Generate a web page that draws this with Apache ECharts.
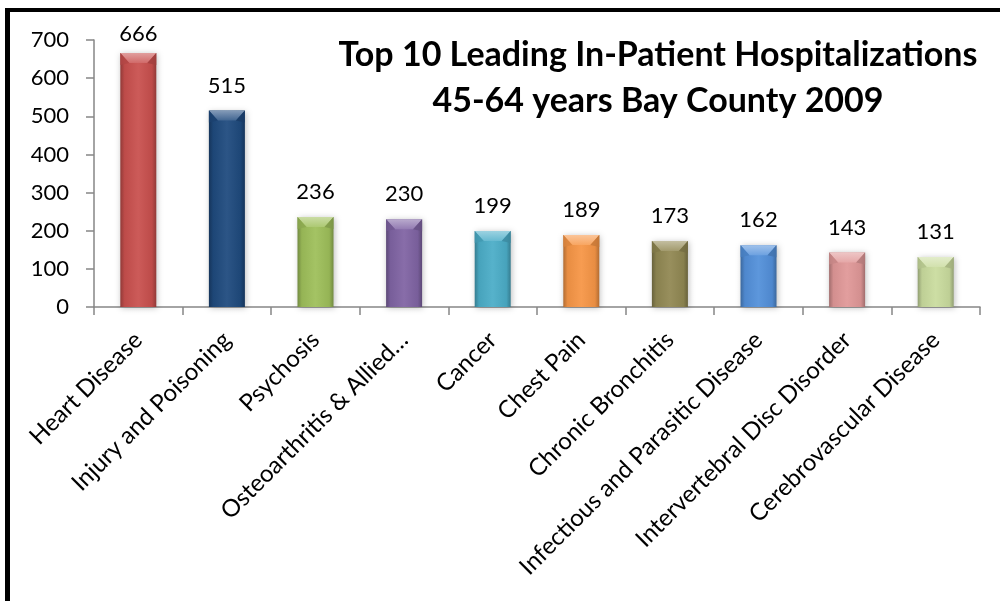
<!DOCTYPE html>
<html>
<head>
<meta charset="utf-8">
<script src="https://cdn.jsdelivr.net/npm/echarts@6/dist/echarts.min.js"></script>
<style>
  html, body { margin: 0; padding: 0; background: #fff; }
  #chart { width: 1000px; height: 601px; }
</style>
</head>
<body>
<div id="chart"></div>
<script>
// Hospitalization counts, ages 45-64, Bay County 2009
const categories = [
  'Heart Disease',
  'Injury and Poisoning',
  'Psychosis',
  'Osteoarthritis & Allied…',
  'Cancer',
  'Chest Pain',
  'Chronic Bronchitis',
  'Infectious and Parasitic Disease',
  'Intervertebral Disc Disorder',
  'Cerebrovascular Disease'
];
const admissions = [666, 515, 236, 230, 199, 189, 173, 162, 143, 131];
const barColors = [
  '#C9504E', '#1F4A7E', '#9EBF5A', '#8064A4', '#4BADC8',
  '#F79646', '#918853', '#5390DA', '#E09898', '#CADC9E'
];
const yTicks = { min: 0, max: 700, step: 100 };
const titleLines = ['Top 10 Leading In-Patient Hospitalizations', '45-64 years Bay County 2009'];

const BAR_W = 36;
const FONT = 'Lato, "Open Sans", sans-serif';

// shade a hex colour: f < 0 darkens, f > 0 lightens
function shade(hex, f) {
  const n = parseInt(hex.slice(1), 16);
  let r = (n >> 16) & 255, g = (n >> 8) & 255, b = n & 255;
  const t = f < 0 ? 0 : 255, p = Math.abs(f);
  r = Math.round(r + (t - r) * p);
  g = Math.round(g + (t - g) * p);
  b = Math.round(b + (t - b) * p);
  return 'rgb(' + r + ',' + g + ',' + b + ')';
}

function cylinder(hex) {
  return new echarts.graphic.LinearGradient(0, 0, 1, 0, [
    { offset: 0, color: shade(hex, -0.28) },
    { offset: 0.12, color: shade(hex, -0.06) },
    { offset: 0.5, color: shade(hex, 0.06) },
    { offset: 0.88, color: shade(hex, -0.06) },
    { offset: 1, color: shade(hex, -0.28) }
  ]);
}

// bevelled cap drawn on top of each bar
function renderCap(params, api) {
  const idx = params.dataIndex;
  const p = api.coord([api.value(0), api.value(1)]);
  const half = BAR_W / 2;
  const depth = 10, inset = 9;
  const base = barColors[idx];
  return {
    type: 'group',
    children: [
      {
        type: 'polygon',
        shape: { points: [[p[0] - half, p[1]], [p[0] + half, p[1]], [p[0] + half - inset, p[1] + depth], [p[0] - half + inset, p[1] + depth]] },
        style: {
          fill: new echarts.graphic.LinearGradient(0, 0, 0, 1, [
            { offset: 0, color: shade(base, 0.45) },
            { offset: 1, color: shade(base, 0.15) }
          ])
        }
      },
      {
        type: 'polygon',
        shape: { points: [[p[0] - half, p[1]], [p[0] - half + inset, p[1] + depth], [p[0] - half, p[1] + depth + 2]] },
        style: { fill: shade(base, -0.12), opacity: 0.8 }
      },
      {
        type: 'polygon',
        shape: { points: [[p[0] + half, p[1]], [p[0] + half - inset, p[1] + depth], [p[0] + half, p[1] + depth + 2]] },
        style: { fill: shade(base, -0.2), opacity: 0.8 }
      }
    ]
  };
}

const chart = echarts.init(document.getElementById('chart'), null, { renderer: 'canvas' });

chart.setOption({
  backgroundColor: '#ffffff',
  animation: false,
  title: {
    text: titleLines.join('\n'),
    left: 653,
    top: 27,
    textAlign: 'center',
    textStyle: {
      fontFamily: FONT,
      fontWeight: 'bold',
      fontSize: 34,
      lineHeight: 46,
      color: '#000'
    }
  },
  graphic: [
    { type: 'rect', shape: { x: 5, y: 8, width: 995, height: 4 }, style: { fill: '#000' }, z: 10 },
    { type: 'rect', shape: { x: 5, y: 8, width: 5, height: 593 }, style: { fill: '#000' }, z: 10 }
  ],
  grid: { left: 94, right: 20, top: 40, bottom: 294, containLabel: false },
  xAxis: {
    type: 'category',
    data: categories,
    boundaryGap: true,
    axisLine: { lineStyle: { color: '#868686', width: 1.5 } },
    axisTick: { show: true, length: 8, lineStyle: { color: '#868686', width: 1.5 } },
    axisLabel: {
      interval: 0,
      rotate: 45,
      margin: 29,
      fontFamily: FONT,
      fontSize: 24,
      color: '#000'
    }
  },
  yAxis: {
    type: 'value',
    min: yTicks.min,
    max: yTicks.max,
    interval: yTicks.step,
    axisLine: { show: true, lineStyle: { color: '#868686', width: 1.5 } },
    axisTick: { show: true, length: 8, lineStyle: { color: '#868686', width: 1.5 } },
    splitLine: { show: false },
    axisLabel: {
      margin: 25,
      fontFamily: FONT,
      fontSize: 22,
      color: '#000'
    }
  },
  series: [
    {
      type: 'bar',
      barWidth: BAR_W,
      data: admissions.map((v, i) => ({
        value: v,
        itemStyle: {
          color: cylinder(barColors[i]),
          shadowColor: 'rgba(0,0,0,0.25)',
          shadowBlur: 6,
          shadowOffsetX: 1,
          shadowOffsetY: 1
        },
        // the tallest label sits tight under the top of the frame
        label: i === 0 ? { distance: 8 } : undefined
      })),
      label: {
        show: true,
        position: 'top',
        distance: 14,
        fontFamily: FONT,
        fontSize: 22,
        color: '#000'
      }
    },
    {
      type: 'custom',
      renderItem: renderCap,
      data: admissions.map((v, i) => [i, v]),
      z: 3,
      silent: true
    }
  ]
});
</script>
</body>
</html>
